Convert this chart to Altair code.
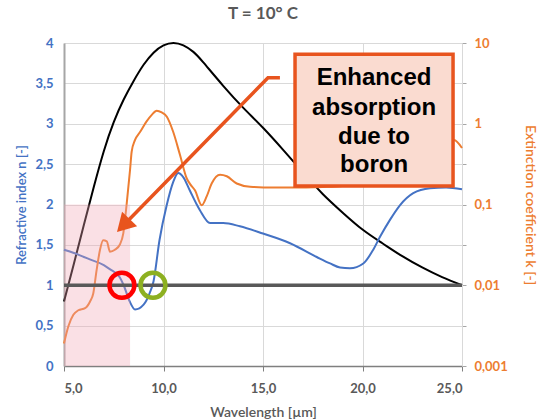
import altair as alt
import pandas as pd

# ---- data ----
black_x = [5.0, 5.5, 6.0, 6.5, 7.0, 7.5, 8.0, 8.5, 9.0, 9.5, 10.0, 10.5, 11.0, 11.5, 12.0,
           13.0, 14.0, 15.0, 16.0, 17.0, 18.0, 19.0, 20.0, 21.0, 22.0, 23.0, 24.0, 25.0]
black_y = [0.8, 1.27, 1.75, 2.22, 2.66, 3.02, 3.3, 3.53, 3.73, 3.88, 3.97, 4.0, 3.97, 3.89, 3.76,
           3.47, 3.2, 2.95, 2.68, 2.4, 2.13, 1.9, 1.69, 1.52, 1.36, 1.22, 1.1, 1.0]

blue_x = [5.0, 5.5, 6.0, 6.3, 7.0, 7.3, 7.8, 8.0, 8.3, 8.57, 9.0, 9.3, 9.5, 9.8, 10.16, 10.49,
          10.74, 10.99, 11.33, 11.67, 11.83, 12.34, 13.0, 13.84, 15.0, 16.36, 17.7, 18.37,
          18.87, 19.37, 20.04, 20.54, 20.88, 21.38, 21.88, 22.55, 23.39, 24.2, 25.0]
blue_y = [1.44, 1.4, 1.35, 1.32, 1.25, 1.2, 1.1, 1.0, 0.8, 0.7, 0.76, 0.9, 1.05, 1.56, 1.99, 2.28,
          2.39, 2.34, 2.17, 2.0, 1.93, 1.77, 1.77, 1.73, 1.64, 1.52, 1.35, 1.27,
          1.22, 1.21, 1.27, 1.44, 1.6, 1.81, 1.99, 2.14, 2.2, 2.21, 2.19]

orange_x = [5.0, 5.22, 5.47, 5.72, 6.06, 6.31, 6.47, 6.64, 6.81, 6.97, 7.15, 7.31, 7.56, 7.81,
            7.98, 8.15, 8.32, 8.4, 8.57, 8.82, 9.15, 9.41, 9.66, 9.91, 10.16, 10.49, 10.83,
            11.17, 11.33, 11.58, 11.92, 12.17, 12.42, 12.84, 13.18, 13.68, 14.35, 15.5, 16.36,
            18.0, 19.0, 20.0, 21.0, 22.0, 23.0, 24.0, 24.6, 25.0]
orange_k = [0.0019, 0.0031, 0.0043, 0.0049, 0.0052, 0.0063, 0.0079, 0.0155, 0.0275, 0.036, 0.035,
            0.026, 0.0275, 0.032, 0.044, 0.102, 0.27, 0.45, 0.63, 0.79, 1.07, 1.29, 1.45, 1.38,
            1.23, 0.79, 0.41, 0.21, 0.18, 0.15, 0.098, 0.126, 0.182, 0.234, 0.224, 0.182,
            0.166, 0.162, 0.162, 0.165, 0.17, 0.19, 0.25, 0.35, 0.48, 0.58, 0.63, 0.5]

ref_line_x = [5.0]
ref_line_x2 = [25.0]
ref_line_y = [1.0]

zone_x = [5.0]
zone_x2 = [8.32]
zone_y = [0.0]
zone_y2 = [2.0]

red_circle_x = [7.91]
green_circle_x = [9.47]
circle_y = [1.0]

arrow_x = [15.85, 15.25, 7.98]
arrow_y = [3.57, 3.57, 1.74]
arrow_head_x = [7.98]
arrow_head_y = [1.74]

box_x = [16.61]
box_x2 = [24.55]
box_y = [2.23]
box_y2 = [3.86]

note_lines = ["Enhanced", "absorption", "due to", "boron"]
note_x = [20.58, 20.58, 20.58, 20.58]
note_y = [3.57, 3.2, 2.84, 2.49]

x_ticks = [5, 10, 15, 20, 25]
n_ticks = [0, 0.5, 1, 1.5, 2, 2.5, 3, 3.5, 4]
k_ticks = [0.001, 10 ** -2.5, 0.01, 10 ** -1.5, 0.1, 10 ** -0.5, 1, 10 ** 0.5, 10]

BLUE = "#4472C4"
ORANGE = "#ED7D31"
GREY = "#595959"
FONT = "Lato"

xscale = alt.Scale(domain=[5, 25], nice=False, zero=False)
nscale = alt.Scale(domain=[0, 4], nice=False, zero=False)
kscale = alt.Scale(type="log", domain=[0.001, 10], nice=False)

xaxis = alt.Axis(values=x_ticks, title="Wavelength [µm]",
                 labelExpr="replace(format(datum.value, '.1f'), '.', ',')",
                 labelFont=FONT, labelFontSize=13, labelFontWeight="bold", labelColor=GREY,
                 titleFont=FONT, titleFontSize=14, titleFontWeight=600, titleColor=GREY,
                 titlePadding=10, labelPadding=11,
                 domainColor="#7F7F7F", domainWidth=1.5, tickColor="#7F7F7F", tickSize=5,
                 grid=True, gridColor="#D9D9D9", gridWidth=1)

naxis = alt.Axis(values=n_ticks, title="Refractive index n [-]",
                 labelExpr="replace(format(datum.value, '~g'), '.', ',')",
                 labelFont=FONT, labelFontSize=13, labelFontWeight="bold", labelColor=BLUE,
                 titleFont=FONT, titleFontSize=13, titleFontWeight=600, titleColor=BLUE,
                 titlePadding=6, labelPadding=11, ticks=False,
                 domainColor="#A6A6A6", domainWidth=2,
                 grid=True, gridColor="#D9D9D9", gridWidth=1)

kaxis = alt.Axis(values=k_ticks, title="Extinction coefficient k [-]", orient="right",
                 labelExpr="indexof(['0.001','0.01','0.1','1','10'], format(datum.value, '~g')) >= 0 ? replace(format(datum.value, '~g'), '.', ',') : ''",
                 labelFont=FONT, labelFontSize=13, labelFontWeight="bold", labelColor=ORANGE,
                 titleFont=FONT, titleFontSize=14, titleFontWeight=600, titleColor=ORANGE,
                 titlePadding=15, labelPadding=8, tickSize=4, tickColor="#A6A6A6",
                 domainColor="#D9D9D9", domainWidth=1, grid=False)


def X(field):
    return alt.X(field, type="quantitative", scale=xscale, axis=xaxis)


black_df = pd.DataFrame({"x": black_x, "y": black_y})
blue_df = pd.DataFrame({"x": blue_x, "y": blue_y})
orange_df = pd.DataFrame({"x": orange_x, "k": orange_k})

black = alt.Chart(black_df).mark_line(color="#000000", strokeWidth=2, interpolate="natural").encode(
    x=X("x"), y=alt.Y("y:Q", scale=nscale, axis=naxis))
blue = alt.Chart(blue_df).mark_line(color=BLUE, strokeWidth=2, interpolate="monotone").encode(
    x=X("x"), y=alt.Y("y:Q", scale=nscale, axis=naxis))
left = alt.layer(black, blue)

orange = alt.Chart(orange_df).mark_line(color=ORANGE, strokeWidth=2, interpolate="monotone").encode(
    x=X("x"), y=alt.Y("k:Q", scale=kscale, axis=kaxis))


def Yn(f):
    return alt.Y(f, type="quantitative", scale=nscale, axis=None)


zone = alt.Chart(pd.DataFrame({"x": zone_x, "x2": zone_x2, "y": zone_y, "y2": zone_y2})).mark_rect(
    color="#F1A7B5", opacity=0.35).encode(x=X("x"), x2="x2", y=Yn("y"), y2="y2")

ref = alt.Chart(pd.DataFrame({"x": ref_line_x, "x2": ref_line_x2, "y": ref_line_y})).mark_rule(
    color=GREY, strokeWidth=3.5).encode(x=X("x"), x2="x2", y=Yn("y"))

red_c = alt.Chart(pd.DataFrame({"x": red_circle_x, "y": circle_y})).mark_point(
    shape="circle", filled=False, size=620, strokeWidth=4.5, color="#FF0000", opacity=1).encode(
    x=X("x"), y=Yn("y"))
green_c = alt.Chart(pd.DataFrame({"x": green_circle_x, "y": circle_y})).mark_point(
    shape="circle", filled=False, size=620, strokeWidth=4.5, color="#8DB021", opacity=1).encode(
    x=X("x"), y=Yn("y"))

arrow = alt.Chart(pd.DataFrame({"x": arrow_x, "y": arrow_y, "o": list(range(len(arrow_x)))})).mark_line(
    color="#E8541E", strokeWidth=3.5).encode(x=X("x"), y=Yn("y"), order="o:Q")
head = alt.Chart(pd.DataFrame({"x": arrow_head_x, "y": arrow_head_y})).mark_point(
    shape="triangle-up", filled=True, size=440, angle=224, color="#E8541E", opacity=1).encode(
    x=X("x"), y=Yn("y"))

box = alt.Chart(pd.DataFrame({"x": box_x, "x2": box_x2, "y": box_y, "y2": box_y2})).mark_rect(
    fill="#FADBD0", stroke="#E8541E", strokeWidth=3.5).encode(x=X("x"), x2="x2", y=Yn("y"), y2="y2")

note = alt.Chart(pd.DataFrame({"x": note_x, "y": note_y, "t": note_lines})).mark_text(
    font="Liberation Sans", fontSize=24, fontWeight="bold", color="#000000",
    align="center", baseline="middle").encode(x=X("x"), y=Yn("y"), text="t:N")

over = alt.layer(zone, ref, red_c, green_c, arrow, head, box, note)

chart = alt.layer(left, orange, over).resolve_scale(y="independent").properties(
    width=398, height=323,
    autosize="none",
    padding={"left": 64, "top": 43, "right": 80, "bottom": 53},
    background="#FFFFFF",
    title=alt.TitleParams("T = 10° C", font=FONT, fontSize=17, fontWeight="bold",
                          color=GREY, offset=14, anchor="middle"),
).configure_view(stroke=None)

chart.save("out.html", embed_options={"renderer": "svg", "actions": False})
